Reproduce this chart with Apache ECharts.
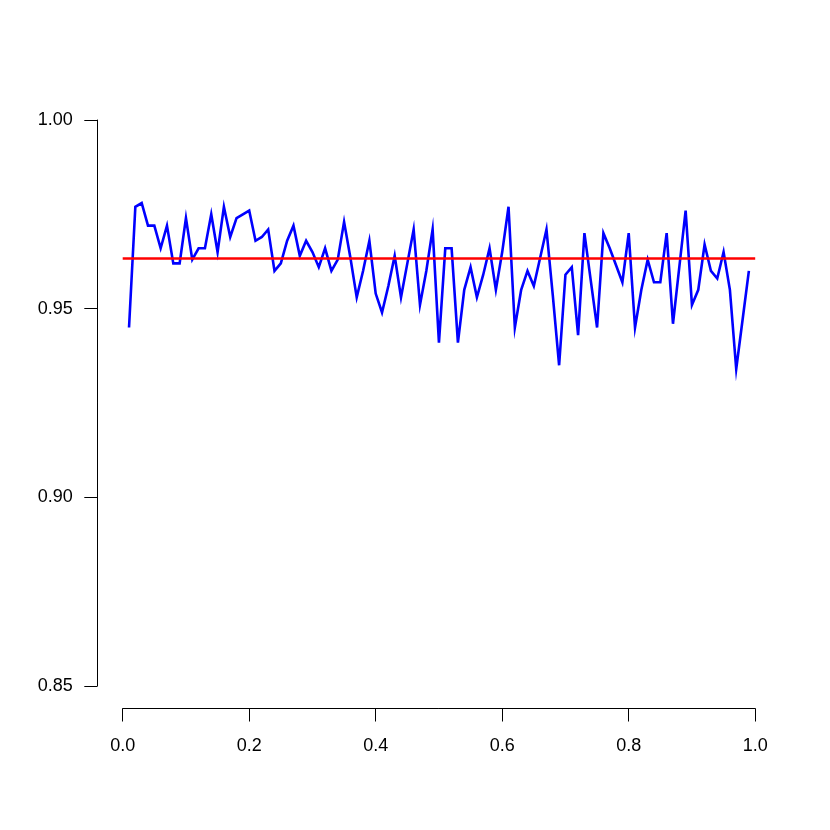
<!DOCTYPE html>
<html>
<head>
<meta charset="utf-8">
<script src="https://cdn.jsdelivr.net/npm/echarts@6/dist/echarts.min.js"></script>
<style>
html,body{margin:0;padding:0;background:#fff;}
#chart{width:830px;height:830px;}
</style>
</head>
<body>
<div id="chart"></div>
<script>
const xValues = [0.01,0.02,0.03,0.04,0.05,0.06,0.07,0.08,0.09,0.10,
  0.11,0.12,0.13,0.14,0.15,0.16,0.17,0.18,0.19,0.20,
  0.21,0.22,0.23,0.24,0.25,0.26,0.27,0.28,0.29,0.30,
  0.31,0.32,0.33,0.34,0.35,0.36,0.37,0.38,0.39,0.40,
  0.41,0.42,0.43,0.44,0.45,0.46,0.47,0.48,0.49,0.50,
  0.51,0.52,0.53,0.54,0.55,0.56,0.57,0.58,0.59,0.60,
  0.61,0.62,0.63,0.64,0.65,0.66,0.67,0.68,0.69,0.70,
  0.71,0.72,0.73,0.74,0.75,0.76,0.77,0.78,0.79,0.80,
  0.81,0.82,0.83,0.84,0.85,0.86,0.87,0.88,0.89,0.90,
  0.91,0.92,0.93,0.94,0.95,0.96,0.97,0.98,0.99];
const blueValues = [0.945,0.977,0.978,0.972,0.972,0.966,0.972,0.962,0.962,0.974,
  0.963,0.966,0.966,0.975,0.965,0.977,0.969,0.974,0.975,0.976,
  0.968,0.969,0.971,0.960,0.962,0.968,0.972,0.964,0.968,0.965,
  0.961,0.966,0.960,0.963,0.973,0.9635,0.953,0.960,0.968,0.954,
  0.949,0.956,0.964,0.953,0.962,0.971,0.951,0.960,0.971,0.941,
  0.966,0.966,0.941,0.955,0.961,0.953,0.959,0.966,0.955,0.965,
  0.977,0.945,0.955,0.960,0.956,0.9635,0.971,0.9535,0.935,0.959,
  0.961,0.943,0.970,0.9575,0.945,0.970,0.966,0.9615,0.957,0.970,
  0.945,0.955,0.963,0.957,0.957,0.970,0.946,0.961,0.976,0.951,
  0.955,0.967,0.960,0.958,0.965,0.955,0.934,0.947,0.960];
const refLevel = 0.9633;
const refRange = [0, 1];
const xTicks = [0.0, 0.2, 0.4, 0.6, 0.8, 1.0];
const yTicks = [0.85, 0.90, 0.95, 1.00];

const chart = echarts.init(document.getElementById('chart'), null, {renderer: 'canvas'});
const font = '"Liberation Sans", Arial, Helvetica, sans-serif';
chart.setOption({
  animation: false,
  backgroundColor: '#ffffff',
  grid: {left: 122.7, right: 74.8, top: 120, bottom: 144, containLabel: false},
  xAxis: {
    type: 'value', min: xTicks[0], max: xTicks[xTicks.length - 1], interval: 0.2,
    offset: 22.5,
    axisLine: {show: true, onZero: false, lineStyle: {color: '#000', width: 1}},
    axisTick: {show: true, length: 13, inside: false, lineStyle: {color: '#000', width: 1}},
    axisLabel: {show: true, margin: 29, color: '#000', fontSize: 18, fontFamily: font,
      formatter: v => v.toFixed(1)},
    splitLine: {show: false}
  },
  yAxis: {
    type: 'value', min: yTicks[0], max: yTicks[yTicks.length - 1], interval: 0.05,
    offset: 25.4,
    axisLine: {show: true, onZero: false, lineStyle: {color: '#000', width: 1}},
    axisTick: {show: true, length: 13, inside: false, lineStyle: {color: '#000', width: 1}},
    axisLabel: {show: true, margin: 24.5, color: '#000', fontSize: 18, fontFamily: font,
      formatter: v => v.toFixed(2)},
    splitLine: {show: false}
  },
  series: [
    {
      type: 'line',
      data: xValues.map((x, i) => [x, blueValues[i]]),
      showSymbol: false,
      lineStyle: {color: '#0000ff', width: 2.6, join: 'miter'},
      z: 2
    },
    {
      type: 'line',
      data: refRange.map(x => [x, refLevel]),
      showSymbol: false,
      lineStyle: {color: '#ff0000', width: 2.6},
      z: 3
    }
  ]
});
</script>
</body>
</html>
